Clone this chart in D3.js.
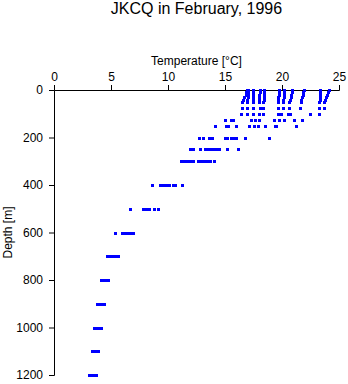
<!DOCTYPE html>
<html>
<head>
<meta charset="utf-8">
<script src="https://cdn.jsdelivr.net/npm/d3@7"></script>
<style>
  html, body { margin: 0; padding: 0; background: #fff; }
  svg { display: block; }
  text { font-family: "Liberation Sans", Arial, Helvetica, sans-serif; fill: #000; }
</style>
</head>
<body>
<svg id="chart" width="348" height="384"></svg>
<script>
// ---- Data ----
const titleText = "JKCQ in February, 1996";
const xLabel = "Temperature [°C]";
const yLabel = "Depth [m]";
const xTicks = [0, 5, 10, 15, 20, 25];
const yTicks = [0, 200, 400, 600, 800, 1000, 1200];

const depthLevels = [0, 10, 20, 30, 40, 50, 75, 100, 125, 150, 200, 250, 300, 400, 500, 600, 700, 800, 900, 1000, 1100, 1200];

const temps0    = [16.9, 17.05, 17.45, 18.05, 18.45, 19.7, 20.2, 20.9, 21.9, 23.35, 24.15];
const temps10   = [16.85, 17.05, 17.45, 18.05, 18.45, 19.7, 20.2, 20.85, 21.85, 23.35, 24.05];
const temps20   = [16.8, 17.0, 17.45, 18.0, 18.4, 19.7, 20.15, 20.8, 21.8, 23.3, 23.95];
const temps30   = [16.7, 17.0, 17.45, 18.0, 18.4, 19.65, 20.15, 20.75, 21.75, 23.3, 23.85];
const temps40   = [16.6, 16.95, 17.45, 18.0, 18.4, 19.65, 20.1, 20.7, 21.7, 23.3, 23.8];
const temps50   = [16.45, 16.95, 17.45, 18.0, 18.35, 19.65, 20.1, 20.65, 21.65, 23.25, 23.7];
const temps75   = [16.46, 16.93, 17.46, 18.04, 18.33, 19.62, 20.09, 20.61, 21.61, 23.25, 23.66];
const temps100  = [16.38, 16.93, 17.46, 17.98, 18.33, 19.65, 19.9, 20.5, 20.7, 22.49, 23.25];
const temps125  = [15.0, 15.5, 15.7, 17.28, 17.65, 17.95, 19.3, 19.7, 20.15, 21.03, 21.79];
const temps150  = [14.12, 15.1, 15.25, 16.0, 17.1, 17.55, 17.9, 18.5, 19.4, 19.5, 21.26];
const temps200  = [12.72, 13.07, 13.6, 13.9, 15.0, 15.2, 15.55, 15.75, 15.95, 16.75, 18.86];
const temps250  = [11.9, 12.2, 12.78, 13.25, 13.5, 13.75, 13.95, 14.2, 14.45, 15.18, 16.18];
const temps300  = [11.15, 11.4, 11.65, 11.9, 12.15, 12.6, 12.9, 13.15, 13.4, 13.65, 14.0];
const temps400  = [8.57, 9.33, 9.6, 9.85, 10.1, 10.4, 10.65, 11.26];
const temps500  = [6.64, 7.8, 8.05, 8.35, 8.75, 9.12];
const temps600  = [5.35, 6.0, 6.25, 6.5, 6.75, 6.95];
const temps700  = [4.65, 4.85, 5.05, 5.25, 5.45, 5.6];
const temps800  = [4.15, 4.35, 4.55, 4.75];
const temps900  = [3.8, 4.0, 4.2, 4.4];
const temps1000 = [3.55, 3.75, 3.95, 4.15];
const temps1100 = [3.3, 3.5, 3.7, 3.9];
const temps1200 = [3.1, 3.3, 3.5, 3.7];

const tempsByLevel = [temps0, temps10, temps20, temps30, temps40, temps50, temps75, temps100,
  temps125, temps150, temps200, temps250, temps300, temps400, temps500, temps600, temps700,
  temps800, temps900, temps1000, temps1100, temps1200];

const points = [];
depthLevels.forEach((d, i) => tempsByLevel[i].forEach(t => points.push({ depth: d, temp: t })));

// ---- Chart ----
const svg = d3.select("#chart");
const x = d3.scaleLinear().domain([0, 25]).range([54, 339]);
const y = d3.scaleLinear().domain([0, 1200]).range([90, 375]);

svg.append("text")
  .attr("x", (x.range()[0] + x.range()[1]) / 2)
  .attr("y", 14)
  .attr("text-anchor", "middle")
  .style("font-size", "16px")
  .text(titleText);

const xAxis = svg.append("g")
  .attr("transform", "translate(0,90)")
  .call(d3.axisTop(x).tickValues(xTicks).tickFormat(d3.format("d")).tickSize(5).tickPadding(4));
const yAxis = svg.append("g")
  .attr("transform", "translate(54,0)")
  .call(d3.axisLeft(y).tickValues(yTicks).tickFormat(d3.format("d")).tickSize(5).tickPadding(6));

[xAxis, yAxis].forEach(g => {
  g.selectAll("text").style("font-size", "12px").attr("fill", "#000")
    .style("font-family", '"Liberation Sans", Arial, sans-serif');
  g.selectAll("path, line").attr("stroke", "#000");
});

svg.append("text")
  .attr("x", (x.range()[0] + x.range()[1]) / 2)
  .attr("y", 65)
  .attr("text-anchor", "middle")
  .style("font-size", "12px")
  .text(xLabel);

svg.append("text")
  .attr("transform", `translate(12,${(y.range()[0] + y.range()[1]) / 2}) rotate(-90)`)
  .attr("text-anchor", "middle")
  .style("font-size", "12px")
  .text(yLabel);

svg.append("g")
  .selectAll("rect")
  .data(points)
  .join("rect")
  .attr("x", d => Math.round(x(d.temp)) - 1)
  .attr("y", d => Math.round(y(d.depth)) - 1)
  .attr("width", 3)
  .attr("height", 3)
  .attr("fill", "#0000ff");
</script>
</body>
</html>
